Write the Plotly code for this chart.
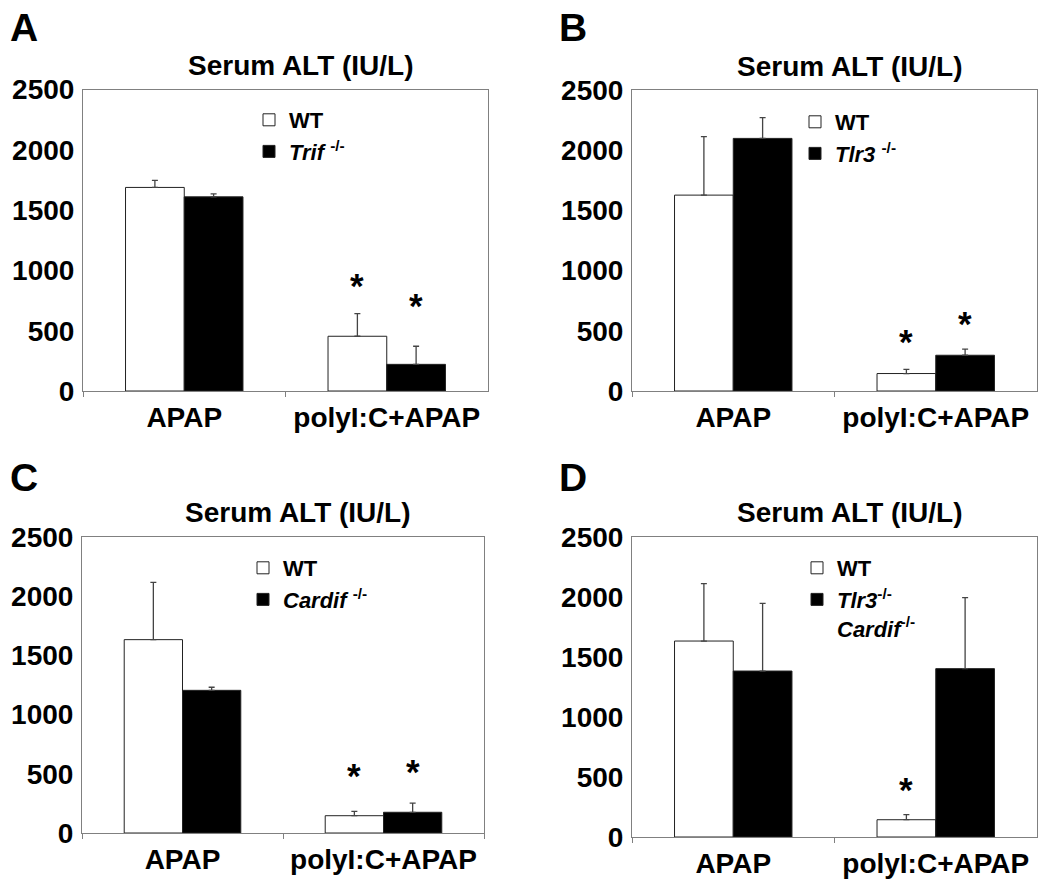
import plotly.graph_objects as go

# page body has an 8px margin; figure is sized so the page is exactly 1050x887
OX, OY = 8, 8
W, H = 1034, 871

categories = ["APAP", "polyI:C+APAP"]

# Panel A
A_wt = [1688, 454]
A_wt_err = [58, 188]
A_ko = [1610, 221]
A_ko_err = [25, 150]
# Panel B
B_wt = [1627, 145]
B_wt_err = [485, 35]
B_ko = [2098, 297]
B_ko_err = [172, 50]
# Panel C
C_wt = [1633, 146]
C_wt_err = [484, 37]
C_ko = [1205, 175]
C_ko_err = [26, 78]
# Panel D
D_wt = [1633, 144]
D_wt_err = [478, 42]
D_ko = [1383, 1403]
D_ko_err = [564, 591]

ko_names = ["<i>Trif</i> <sup>-/-</sup>", "<i>Tlr3</i> <sup>-/-</sup>",
            "<i>Cardif</i> <sup>-/-</sup>", "<i>Tlr3</i><sup>-/-</sup><br><i>Cardif</i><sup>-/-</sup>"]
panel_letters = ["A", "B", "C", "D"]
title_text = "Serum ALT (IU/L)"
y_ticks = [0, 500, 1000, 1500, 2000, 2500]

# asterisks: (category index, series 0=WT 1=KO, y value)
A_star = [(1, 0, 902), (1, 1, 736)]
B_star = [(1, 0, 437), (1, 1, 586)]
C_star = [(1, 0, 507), (1, 1, 549)]
D_star = [(1, 0, 422)]

panels = [
    (A_wt, A_wt_err, A_ko, A_ko_err, A_star),
    (B_wt, B_wt_err, B_ko, B_ko_err, B_star),
    (C_wt, C_wt_err, C_ko, C_ko_err, C_star),
    (D_wt, D_wt_err, D_ko, D_ko_err, D_star),
]


def px_x(p):
    return (p - OX) / W


def px_y(p):
    return 1 - (p - OY) / H


# pixel boxes in the 1050x887 window (left, right, top, bottom)
boxes = [(83, 488, 89.5, 391), (632, 1037, 90, 391), (82, 484, 537, 833), (632, 1037, 537, 837)]
letter_pos = [(8, 27), (557, 27), (8, 477), (557, 477)]
legend_pos = [(249, 99), (795, 101), (243, 547), (797, 547)]

FONT = "Arial, Liberation Sans, sans-serif"
fig = go.Figure()
layout = dict(width=W, height=H, margin=dict(l=0, r=0, t=0, b=0, autoexpand=False),
              paper_bgcolor="white", plot_bgcolor="white",
              barmode="group", bargap=0.42, bargroupgap=0,
              font=dict(family=FONT, color="black"))
annotations = []
bargap = 0.42
bw = (1 - bargap) / 2

for i, (wt, wte, ko, koe, stars) in enumerate(panels):
    n = "" if i == 0 else str(i + 1)
    xa, ya = "x" + n, "y" + n
    lg = "legend" + n
    l, r, t, b = boxes[i]
    err_style = dict(type="data", symmetric=False, arrayminus=[0, 0],
                     color="#444444", thickness=1.3, width=3)
    fig.add_trace(go.Bar(x=categories, y=wt, name="WT", xaxis=xa, yaxis=ya, legend=lg,
                         marker=dict(color="white", line=dict(color="#222222", width=1)),
                         error_y=dict(array=wte, **err_style)))
    fig.add_trace(go.Bar(x=categories, y=ko, name=ko_names[i], xaxis=xa, yaxis=ya, legend=lg,
                         marker=dict(color="black", line=dict(color="#222222", width=1)),
                         error_y=dict(array=koe, **err_style)))
    layout["xaxis" + n] = dict(domain=[px_x(l), px_x(r)], anchor=ya, showline=True, mirror=True,
                              linecolor="#808080", linewidth=1, ticks="outside",
                              tickson="boundaries", ticklen=5, tickcolor="#808080",
                              showgrid=False, ticklabelstandoff=1, automargin=False,
                              tickfont=dict(family=FONT, size=28, weight="bold", color="black"))
    layout["yaxis" + n] = dict(domain=[px_y(b), px_y(t)], anchor=xa, range=[0, 2500],
                              tickvals=y_ticks, showline=True, mirror=True,
                              linecolor="#808080", linewidth=1, ticks="", showgrid=False,
                              zeroline=False, ticklabelstandoff=2, automargin=False,
                              tickfont=dict(family=FONT, size=28, weight="bold", color="black"))
    lx, ly = legend_pos[i]
    layout[lg] = dict(x=px_x(lx), y=px_y(ly), xanchor="left", yanchor="top",
                      bgcolor="rgba(0,0,0,0)", borderwidth=0, valign="top",
                      font=dict(family=FONT, size=22, weight="bold", color="black"))
    # title
    annotations.append(dict(text=title_text, x=px_x((l + r) / 2 + 15), y=px_y(t - 24),
                            xref="paper", yref="paper", showarrow=False,
                            xanchor="center", yanchor="middle",
                            font=dict(family=FONT, size=28, weight="bold", color="black")))
    # letter
    px, py = letter_pos[i]
    annotations.append(dict(text=panel_letters[i], x=px_x(px), y=px_y(py), xref="paper", yref="paper",
                            showarrow=False, xanchor="left", yanchor="middle",
                            font=dict(family=FONT, size=39, weight="bold", color="black")))
    for (ci, s, yv) in stars:
        annotations.append(dict(text="*", x=ci + (-bw / 2 if s == 0 else bw / 2), y=yv,
                                xref=xa, yref=ya, showarrow=False, xanchor="center",
                                yanchor="middle", yshift=-3,
                                font=dict(family=FONT, size=35, weight="bold", color="black")))

layout["annotations"] = annotations
fig.update_layout(**layout)
fig.write_html("out.html")
